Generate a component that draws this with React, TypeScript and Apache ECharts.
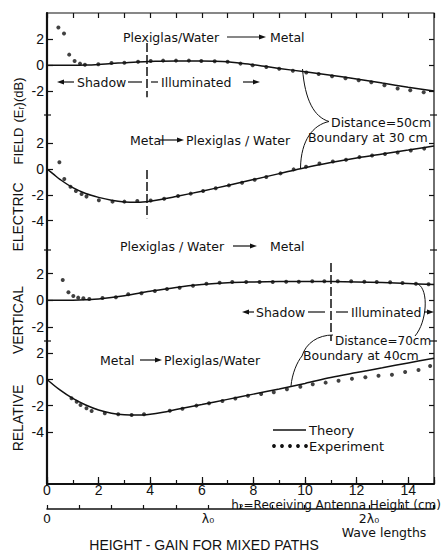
import React, { useEffect, useRef } from "react";
import * as echarts from "echarts";

// ---------------- data ----------------
const heightMaxCm = 15;
const wavelengthCm = 6.24;
const xTickLabels = [0, 2, 4, 6, 8, 10, 12, 14];
const waveTickLabels = ["0", "λ₀", "2λ₀"];

const yTicks1 = [-2, 0, 2];
const yTicks2 = [-4, -2, 0, 2];
const yTicks3 = [-2, 0, 2];
const yTicks4 = [-4, -2, 0, 2];

// Panel 1: Plexiglas/Water -> Metal, distance 50 cm
const theoryX1 = [0, 1, 1.5, 2, 2.5, 3, 3.5, 4, 5, 6, 6.5, 7, 7.5, 8, 8.5, 9, 10, 11, 12, 13, 14, 15];
const theory1 = [0, 0, 0.02, 0.07, 0.14, 0.2, 0.26, 0.3, 0.34, 0.34, 0.32, 0.27, 0.16, 0.04, -0.1, -0.24, -0.5, -0.76, -1.05, -1.37, -1.68, -1.97];
const expX1 = [0.44, 0.66, 0.86, 1.07, 1.28, 1.47, 1.99, 2.5, 3.0, 3.53, 4.02, 4.5, 5.0, 5.5, 5.98, 6.5, 7.0, 7.5, 7.97, 8.5, 9.0, 9.53, 10.05, 10.53, 11.05, 11.57, 12.08, 12.57, 13.08, 13.59, 14.08, 14.6];
const exp1 = [2.9, 2.44, 0.82, 0.33, 0.13, 0.05, 0.08, 0.18, 0.2, 0.28, 0.33, 0.36, 0.36, 0.36, 0.33, 0.31, 0.28, 0.13, 0.0, -0.13, -0.26, -0.42, -0.56, -0.67, -0.84, -1.0, -1.15, -1.3, -1.54, -1.79, -1.92, -2.08];

// Panel 2: Metal -> Plexiglas/Water, distance 50 cm
const theoryX2 = [0, 0.25, 0.5, 1, 1.5, 2, 2.5, 3, 3.5, 4, 4.5, 5, 6, 7, 8, 9, 10, 11, 12, 13, 14, 15];
const theory2 = [0, -0.4, -0.8, -1.45, -1.9, -2.2, -2.42, -2.55, -2.58, -2.5, -2.33, -2.13, -1.72, -1.28, -0.82, -0.36, 0.1, 0.5, 0.86, 1.17, 1.47, 1.78];
const expX2 = [0.48, 0.67, 0.91, 1.12, 1.34, 1.53, 2.01, 2.54, 3.0, 3.5, 4.02, 4.54, 5.08, 5.57, 6.05, 6.54, 7.05, 7.56, 8.05, 8.5, 9.05, 9.56, 10.04, 10.56, 11.08, 11.59, 12.11, 12.6, 13.1, 13.59, 14.1, 14.62];
const exp2 = [0.52, -0.78, -1.37, -1.71, -1.94, -2.14, -2.43, -2.53, -2.53, -2.48, -2.45, -2.3, -2.09, -1.91, -1.71, -1.5, -1.27, -1.06, -0.83, -0.62, -0.34, -0.03, 0.18, 0.42, 0.58, 0.72, 0.92, 1.05, 1.17, 1.28, 1.44, 1.58];

// Panel 3: Plexiglas/Water -> Metal, distance 70 cm
const theoryX3 = [0, 1, 1.5, 2, 3, 4, 5, 6, 7, 8, 9, 10, 11, 12, 13, 14, 15];
const theory3 = [0, 0.01, 0.04, 0.1, 0.35, 0.68, 0.97, 1.18, 1.32, 1.38, 1.41, 1.42, 1.41, 1.38, 1.33, 1.26, 1.18];
const expX3 = [0.61, 0.83, 1.02, 1.21, 1.41, 1.64, 2.15, 2.67, 3.15, 3.66, 4.18, 4.65, 5.14, 5.66, 6.18, 6.69, 7.18, 7.72, 8.24, 8.75, 9.27, 9.76, 10.28, 10.75, 11.27, 11.79, 12.3, 12.78, 13.3, 13.78, 14.3, 14.79];
const exp3 = [1.53, 0.6, 0.32, 0.2, 0.15, 0.1, 0.17, 0.23, 0.45, 0.53, 0.7, 0.85, 0.95, 1.1, 1.25, 1.32, 1.38, 1.38, 1.38, 1.38, 1.4, 1.4, 1.43, 1.43, 1.43, 1.43, 1.4, 1.38, 1.35, 1.3, 1.25, 1.2];

// Panel 4: Metal -> Plexiglas/Water, distance 70 cm
const theoryX4 = [0, 0.5, 1, 1.5, 2, 2.5, 3, 3.5, 4, 4.5, 5, 6, 7, 8, 9, 10, 11, 12, 13, 14, 15];
const theory4 = [0, -0.8, -1.45, -1.95, -2.33, -2.58, -2.7, -2.72, -2.65, -2.5, -2.3, -1.92, -1.52, -1.12, -0.72, -0.3, 0.15, 0.53, 0.9, 1.27, 1.63];
const expX4 = [0.95, 1.15, 1.3, 1.53, 1.73, 2.24, 2.76, 3.28, 3.76, 4.76, 5.25, 5.79, 6.28, 6.8, 7.3, 7.79, 8.3, 8.79, 9.3, 9.82, 10.3, 10.8, 11.3, 11.82, 12.34, 12.85, 13.37, 13.88, 14.4, 14.85];
const exp4 = [-1.44, -1.7, -1.95, -2.2, -2.41, -2.59, -2.66, -2.72, -2.66, -2.39, -2.23, -2.0, -1.82, -1.64, -1.45, -1.24, -1.11, -0.98, -0.75, -0.55, -0.37, -0.24, -0.09, 0.06, 0.17, 0.29, 0.37, 0.57, 0.73, 1.03];

// Dashed boundary markers: [x, yFrom, yTo] in data units of each panel
const boundary1 = [3.87, 1.72, -2.45];
const boundary2 = [3.87, -0.08, -3.82];
const boundary3 = [11, 2.8, -3.06];
const boundary4 = [11, 2.95, -1.57];

// ---------------- layout ----------------
const W = 442;
const H = 551;
const PL = 47;
const PR = 434;
const PT = 13;
const PB = 484;
const panelLayout = [
  { top: 13, bottom: 115, zero: 65.3, scale: 13 },
  { top: 115, bottom: 250, zero: 169, scale: 12.9 },
  { top: 250, bottom: 341, zero: 300.3, scale: 13.3 },
  { top: 341, bottom: 484, zero: 379.5, scale: 13.07 },
];

const FONT = '"Liberation Sans", Arial, "DejaVu Sans", sans-serif';
const ANN = '"DejaVu Sans", "Liberation Sans", sans-serif';
const INK = "#111";

const zip = (xs: number[], ys: number[]) => xs.map((x, i) => [x, ys[i]]);

const txt = (x: number, y: number, text: string, o: any = {}) => ({
  type: "text",
  x,
  y,
  rotation: o.rotation || 0,
  silent: true,
  z: 100,
  style: {
    text,
    fill: INK,
    fontSize: o.size || 12.5,
    fontFamily: o.family || ANN,
    align: o.align || "left",
    verticalAlign: "middle",
  },
});
const seg = (x1: number, y1: number, x2: number, y2: number, w = 1.2) => ({
  type: "line",
  silent: true,
  z: 100,
  shape: { x1, y1, x2, y2 },
  style: { stroke: INK, lineWidth: w },
});
const arrow = (tail: number, tip: number, y: number) => {
  const d = tip > tail ? 1 : -1;
  return [
    seg(tail, y, tip - d * 5, y, 1.2),
    {
      type: "polygon",
      silent: true,
      z: 100,
      shape: { points: [[tip, y], [tip - d * 7, y - 2.4], [tip - d * 7, y + 2.4]] },
      style: { fill: INK },
    },
  ];
};
const curve = (x1: number, y1: number, cpx1: number, cpy1: number, cpx2: number, cpy2: number, x2: number, y2: number) => ({
  type: "bezierCurve",
  silent: true,
  z: 100,
  shape: { x1, y1, cpx1, cpy1, cpx2, cpy2, x2, y2 },
  style: { stroke: INK, fill: "none", lineWidth: 1 },
});

export default function App() {
  const ref = useRef<HTMLDivElement>(null);

  useEffect(() => {
    if (!ref.current) return;
    const chart = echarts.init(ref.current, undefined, { renderer: "svg" });

    const panels = [
      { tx: theoryX1, ty: theory1, ex: expX1, ey: exp1, ticks: yTicks1, mark: boundary1 },
      { tx: theoryX2, ty: theory2, ex: expX2, ey: exp2, ticks: yTicks2, mark: boundary2 },
      { tx: theoryX3, ty: theory3, ex: expX3, ey: exp3, ticks: yTicks3, mark: boundary3 },
      { tx: theoryX4, ty: theory4, ex: expX4, ey: exp4, ticks: yTicks4, mark: boundary4 },
    ];

    const grids: any[] = [
      { left: PL, right: W - PR, top: PT, bottom: H - PB, show: true, borderColor: INK, borderWidth: 1.2 },
      ...panelLayout.map((p) => ({ left: PL, right: W - PR, top: p.top, height: p.bottom - p.top })),
      { left: PL, right: W - PR, top: 508, height: 1 },
    ];

    const tickStyle = { color: INK, width: 1.2 };
    const xAxes: any[] = [
      {
        gridIndex: 0, type: "value", min: 0, max: heightMaxCm, interval: 1, position: "bottom",
        axisLine: { lineStyle: { color: INK, width: 2 } },
        axisTick: { inside: true, length: 4, lineStyle: tickStyle },
        axisLabel: {
          margin: -1, color: INK, fontSize: 14, fontFamily: FONT,
          customValues: xTickLabels,
          formatter: (v: number) => (xTickLabels.indexOf(v) >= 0 ? String(v) : ""),
        },
        splitLine: { show: false },
      },
      {
        gridIndex: 0, type: "value", min: 0, max: heightMaxCm, interval: 2, position: "bottom",
        axisLine: { show: false },
        axisTick: { inside: true, length: 7, lineStyle: tickStyle },
        axisLabel: { show: false }, splitLine: { show: false },
      },
      {
        gridIndex: 0, type: "value", min: 0, max: heightMaxCm, interval: 1, position: "top",
        axisLine: { show: false },
        axisTick: { inside: true, length: 5, lineStyle: tickStyle },
        axisLabel: { show: false }, splitLine: { show: false },
      },
      ...panelLayout.map((_, i) => ({ gridIndex: i + 1, type: "value", min: 0, max: heightMaxCm, show: false })),
      {
        gridIndex: 5, type: "value", min: 0, max: heightMaxCm / wavelengthCm, interval: 0.2, position: "bottom",
        axisLine: { lineStyle: { color: INK, width: 1.5 } },
        axisTick: { inside: true, length: 4, lineStyle: tickStyle },
        axisLabel: {
          margin: 3, color: INK, fontSize: 12.5, fontFamily: ANN,
          customValues: [0, 1, 2],
          formatter: (v: number) => (Math.abs(v - Math.round(v)) < 1e-6 ? waveTickLabels[Math.round(v)] || "" : ""),
        },
        splitLine: { show: false },
      },
    ];

    const yRange = (p: any) => ({ min: -(p.bottom - p.zero) / p.scale, max: (p.zero - p.top) / p.scale });

    const yAxes: any[] = [
      {
        gridIndex: 0, type: "value", min: 0, max: 1, position: "left",
        axisLine: { show: true, lineStyle: { color: INK, width: 2.2 } },
        axisTick: { show: false }, axisLabel: { show: false }, splitLine: { show: false },
      },
      ...panelLayout.map((p, i) => ({
        gridIndex: i + 1, type: "value", position: "left", ...yRange(p),
        axisLine: { show: false },
        axisTick: { show: true, inside: true, length: 6, lineStyle: tickStyle, customValues: panels[i].ticks },
        axisLabel: { show: true, margin: 3, color: INK, fontSize: 14, fontFamily: FONT, customValues: panels[i].ticks },
        splitLine: { show: false },
      })),
      ...panelLayout.map((p, i) => ({
        gridIndex: i + 1, type: "value", position: "right", ...yRange(p),
        axisLine: { show: false },
        axisTick: { show: true, inside: true, length: 5, lineStyle: tickStyle, customValues: panels[i].ticks },
        axisLabel: { show: false },
        splitLine: { show: false },
      })),
      { gridIndex: 5, type: "value", show: false, min: 0, max: 1 },
    ];

    const series: any[] = [];
    panels.forEach((p, i) => {
      series.push({
        name: "Theory",
        type: "line",
        xAxisIndex: 3 + i,
        yAxisIndex: 1 + i,
        data: zip(p.tx, p.ty),
        smooth: 0.35,
        showSymbol: false,
        clip: false,
        lineStyle: { color: INK, width: 1.5 },
        markLine: {
          silent: true,
          symbol: ["none", "none"],
          label: { show: false },
          lineStyle: { color: INK, width: 1.5, type: [9, 3] },
          data: [[{ coord: [p.mark[0], p.mark[1]] }, { coord: [p.mark[0], p.mark[2]] }]],
        },
      });
      series.push({
        name: "Experiment",
        type: "scatter",
        xAxisIndex: 3 + i,
        yAxisIndex: 1 + i,
        data: zip(p.ex, p.ey),
        symbol: "circle",
        symbolSize: 4,
        clip: false,
        itemStyle: { color: INK },
      });
    });

    const graphic: any[] = [
      // panel 1 annotations
      txt(123, 37, "Plexiglas/Water"),
      ...arrow(227, 266, 37),
      txt(270, 37, "Metal"),
      ...arrow(74, 57, 82),
      txt(77, 82, "Shadow"),
      seg(128, 82, 142, 82),
      seg(151, 82, 158, 82),
      txt(161, 82, "Illuminated"),
      ...arrow(243, 260, 82),
      txt(331, 122, "Distance=50cm"),
      txt(308, 137, "Boundary at 30 cm"),
      curve(302.5, 69, 305, 100, 314, 117, 329, 121.5),
      curve(329, 121.5, 313, 125, 301, 140, 300.5, 168),
      // panel 2
      txt(130, 140, "Metal"),
      ...arrow(160, 184, 140),
      txt(186, 140, "Plexiglas / Water"),
      // panel 3
      txt(120, 246, "Plexiglas / Water"),
      ...arrow(233, 257, 246),
      txt(270, 246, "Metal"),
      ...arrow(254, 242, 312),
      txt(256, 312, "Shadow"),
      seg(308, 312, 325, 312),
      seg(336, 312, 348, 312),
      txt(351, 312, "Illuminated"),
      ...arrow(424, 434, 312),
      curve(418, 284, 429, 290, 427, 322, 415, 336),
      txt(335, 341, "Distance=70cm", { size: 12 }),
      txt(303, 355, "Boundary at 40cm"),
      curve(333, 335, 318, 335, 306, 343, 302, 356),
      curve(302, 356, 297, 362, 292, 374, 291, 386),
      // panel 4
      txt(100, 360, "Metal"),
      ...arrow(140, 162, 360),
      txt(164, 360, "Plexiglas/Water"),
      // legend
      seg(273, 430, 306, 430, 1.5),
      txt(309, 430, "Theory", { size: 13 }),
      ...[274, 282, 290, 298, 306].map((cx) => ({
        type: "circle", silent: true, z: 100, shape: { cx, cy: 446, r: 1.9 }, style: { fill: INK },
      })),
      txt(309, 446, "Experiment", { size: 13 }),
      // axis breaks
      ...[115, 250, 341].flatMap((y) => [seg(PL - 3, y, PL + 4, y, 1.2), seg(PR - 4, y, PR + 3, y, 1.2)]),
      // axis titles
      txt(441, 505, "h₂=Receiving Antenna Height (cm)", { size: 12, align: "right" }),
      txt(384, 532.5, "Wave lengths", { size: 12.5, align: "center" }),
      txt(204, 544.5, "HEIGHT - GAIN FOR MIXED PATHS", { size: 14, family: FONT, align: "center" }),
      txt(18, 418, "RELATIVE", { size: 14, family: FONT, align: "center", rotation: Math.PI / 2 }),
      txt(18, 320, "VERTICAL", { size: 14, family: FONT, align: "center", rotation: Math.PI / 2 }),
      txt(18, 217, "ELECTRIC", { size: 14, family: FONT, align: "center", rotation: Math.PI / 2 }),
      txt(18, 146, "FIELD", { size: 13, family: FONT, align: "center", rotation: Math.PI / 2 }),
      txt(18, 100, "(Eᵣ)(dB)", { size: 13, family: FONT, align: "center", rotation: Math.PI / 2 }),
    ];

    chart.setOption({
      animation: false,
      backgroundColor: "#fff",
      grid: grids,
      xAxis: xAxes,
      yAxis: yAxes,
      series,
      graphic,
    });

    return () => chart.dispose();
  }, []);

  return (
    <div
      ref={ref}
      style={{ position: "fixed", left: 0, top: 0, width: W, height: H, background: "#fff" }}
    />
  );
}
